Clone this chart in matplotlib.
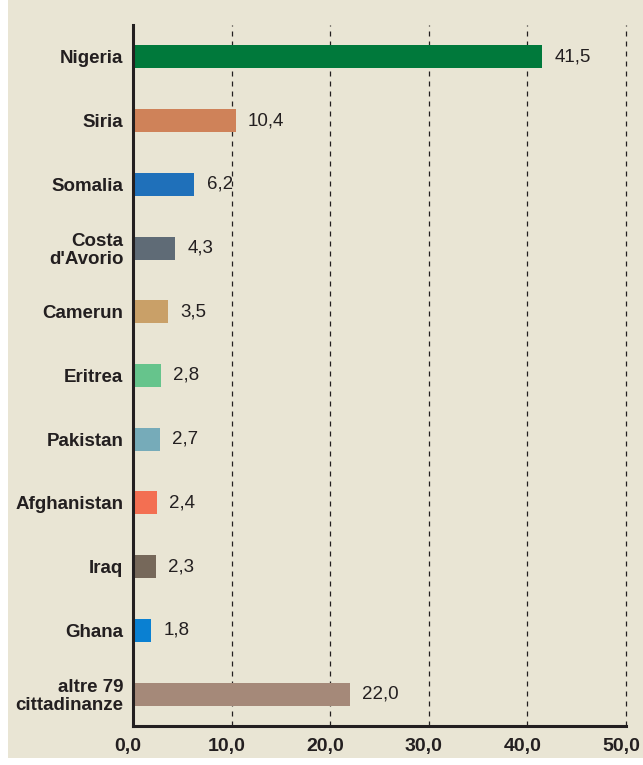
import matplotlib
matplotlib.use("Agg")
import matplotlib.pyplot as plt
from matplotlib import font_manager
from matplotlib.patches import Rectangle
from matplotlib.transforms import ScaledTranslation

categories = ["Nigeria", "Siria", "Somalia", "Costa\nd'Avorio", "Camerun", "Eritrea",
              "Pakistan", "Afghanistan", "Iraq", "Ghana", "altre 79\ncittadinanze"]
values = [41.5, 10.4, 6.2, 4.3, 3.5, 2.8, 2.7, 2.4, 2.3, 1.8, 22.0]
colors = ["#00793B", "#CF8259", "#1F70BA", "#5F6B76", "#C9A068", "#66C48C",
          "#76ABB9", "#F36F52", "#76685A", "#0A80D2", "#A58979"]
xticks = [0, 10, 20, 30, 40, 50]
xticklabels = ["0,0", "10,0", "20,0", "30,0", "40,0", "50,0"]

names = {f.name for f in font_manager.fontManager.ttflist}
narrow = "Liberation Sans Narrow" if "Liberation Sans Narrow" in names else "Liberation Sans"

BG = "#E9E5D4"
DARK = "#231F20"

fig = plt.figure(figsize=(6.43, 7.65), dpi=100, facecolor="white")
fig.patches.append(Rectangle((8/643, 7/765), 1 - 8/643, 1 - 7/765, transform=fig.transFigure,
                             facecolor=BG, edgecolor="none", zorder=-10))
ax = fig.add_axes([133/643, (765-726)/765, (626-133)/643, (726-25)/765])
ax.set_zorder(5)
ax.patch.set_visible(False)

y = list(range(len(categories)))
ax.barh(y, values, height=0.36, color=colors, zorder=3)
for yi, v in zip(y, values):
    ax.annotate(f"{v:.1f}".replace(".", ","), (v, yi), xytext=(9, 0), textcoords="offset points",
                va="center", ha="left", fontsize=13.5, family=narrow, color=DARK)

ax.set_ylim(len(categories) - 0.5, -0.5)
ax.set_xlim(0, 50)
ax.set_yticks(y)
ax.set_yticklabels(categories, fontsize=13.5, fontweight="bold", family=narrow, color=DARK,
                   linespacing=1.1)
ax.set_xticks(xticks)
ax.set_xticklabels(xticklabels, fontsize=14, fontweight="bold", family=narrow, color=DARK)
ax.tick_params(axis="both", length=0)
ax.tick_params(axis="y", pad=7)
ax.tick_params(axis="x", pad=9)
shift = ScaledTranslation(-5/100, 0, fig.dpi_scale_trans)
for lbl in ax.get_xticklabels():
    lbl.set_transform(lbl.get_transform() + shift)

for s in ["top", "right"]:
    ax.spines[s].set_visible(False)
for s in ["left", "bottom"]:
    ax.spines[s].set_linewidth(2.2)
    ax.spines[s].set_color(DARK)
    ax.spines[s].set_zorder(4)

for xv in xticks[1:]:
    ax.axvline(xv, color=DARK, linestyle=(0, (4, 4)), linewidth=0.9, zorder=1, clip_on=False)

fig.savefig("out.png", dpi=100, facecolor="white")
